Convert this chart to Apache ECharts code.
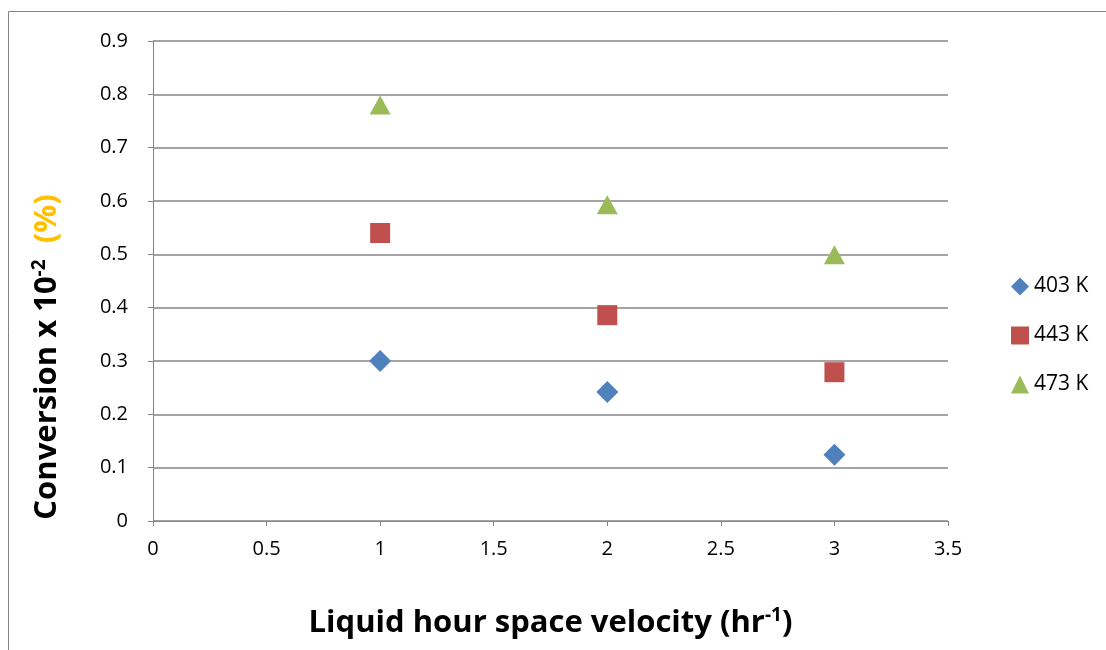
<!DOCTYPE html>
<html><head><meta charset="utf-8">
<script src="https://cdn.jsdelivr.net/npm/echarts@6/dist/echarts.min.js"></script>
<style>html,body{margin:0;padding:0;background:#fff}#c{width:1106px;height:650px}</style>
</head><body><div id="c"></div>
<script>
const xValues = [1, 2, 3];
const seriesNames = ['403 K', '443 K', '473 K'];
const s403 = [0.300, 0.242, 0.124];
const s443 = [0.540, 0.386, 0.279];
const s473 = [0.780, 0.593, 0.499];

const colors = ['#4F81BD', '#C0504D', '#9BBB59'];
const symbols = ['diamond', 'rect', 'triangle'];
const allData = [s403, s443, s473];
const font = '"Open Sans", sans-serif';

const chart = echarts.init(document.getElementById('c'));
chart.setOption({
  animation: false,
  grid: {left: 153, top: 41, width: 795, height: 480},
  xAxis: {
    type: 'value', min: 0, max: 3.5, interval: 0.5,
    axisLine: {lineStyle: {color: '#868686', width: 1}},
    axisTick: {show: true, inside: false, length: 5, lineStyle: {color: '#868686'}},
    axisLabel: {color: '#000', fontSize: 20, fontFamily: font, margin: 18},
    splitLine: {show: false},
    name: 'Liquid hour space velocity (hr{sup|-1})',
    nameLocation: 'middle', nameGap: 85,
    nameTextStyle: {color: '#000', fontSize: 31, fontWeight: 'bold', fontFamily: font,
      rich: {sup: {fontSize: 19, fontWeight: 'bold', fontFamily: font, color: '#000', verticalAlign: 'top', padding: [0,0,15,0]}}}
  },
  yAxis: {
    type: 'value', min: 0, max: 0.9, interval: 0.1,
    axisLine: {show: true, lineStyle: {color: '#868686', width: 1}},
    axisTick: {show: true, inside: false, length: 5, lineStyle: {color: '#868686'}},
    axisLabel: {color: '#000', fontSize: 20, fontFamily: font, margin: 25},
    splitLine: {show: true, lineStyle: {color: '#868686', width: 1.5}}
  },
  legend: {
    orient: 'vertical', left: 1006, top: 271, itemGap: 28,
    itemWidth: 18, itemHeight: 18,
    textStyle: {color: '#000', fontSize: 21, fontFamily: font},
    data: seriesNames.map((n, i) => ({name: n, icon: symbols[i]}))
  },
  graphic: [
    {type: 'rect', shape: {x: 8.5, y: 11.5, width: 1200, height: 700}, style: {fill: 'none', stroke: '#868686', lineWidth: 1}, silent: true, z: -1},
    {type: 'text', x: 47, y: 357, rotation: Math.PI / 2,
      style: {text: 'Conversion x 10{sup|-2}  {pct|(%)}', fill: '#000', font: 'bold 31px ' + font,
        align: 'center', verticalAlign: 'middle',
        rich: {
          sup: {fontSize: 19, fontWeight: 'bold', fontFamily: font, fill: '#000', verticalAlign: 'top', padding: [0,0,15,0]},
          pct: {fontSize: 31, fontWeight: 'bold', fontFamily: font, fill: '#FFC000'}
        }}}
  ],
  series: seriesNames.map((n, i) => ({
    name: n, type: 'scatter', symbol: symbols[i],
    symbolSize: i === 0 ? 22 : (i === 1 ? 20 : [21, 19]),
    itemStyle: {color: colors[i], opacity: 1},
    data: xValues.map((x, j) => [x, allData[i][j]])
  }))
});
</script></body></html>
